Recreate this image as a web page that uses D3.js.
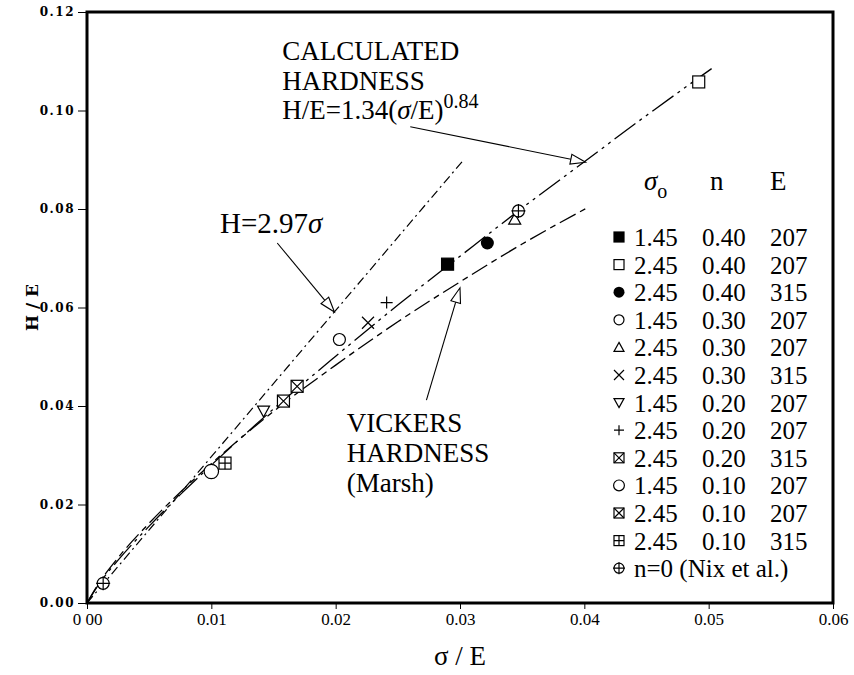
<!DOCTYPE html>
<html>
<head>
<meta charset="utf-8">
<script src="https://cdn.jsdelivr.net/npm/d3@7/dist/d3.min.js"></script>
<style>
  body { margin: 0; background: #fff; }
  text { fill: #000; }
</style>
</head>
<body>
<div id="chart"></div>
<script>
// Define SVG area dimensions
var svgWidth = 854;
var svgHeight = 675;

// tick values and labels, as printed
var xTicks = [0, 0.01, 0.02, 0.03, 0.04, 0.05, 0.06];
var xTickLabels = ["0 00", "0.01", "0.02", "0.03", "0.04", "0.05", "0.06"];
var yTicks = [0, 0.02, 0.04, 0.06, 0.08, 0.10, 0.12];
var yTickLabels = ["0.00", "0.02", "0.04", "0.06", "0.08", "0.10", "0.12"];

// legend rows: marker, sigma_o, n, E
var seriesMarkers = ["sqFill", "sq", "dotFill", "circ", "tri", "cross", "triDown", "plus", "sqX", "circBig", "sqX", "sqPlus", "circPlus"];
var seriesSigma = ["1.45", "2.45", "2.45", "1.45", "2.45", "2.45", "1.45", "2.45", "2.45", "1.45", "2.45", "2.45", "n=0 (Nix et al.)"];
var seriesN = ["0.40", "0.40", "0.40", "0.30", "0.30", "0.30", "0.20", "0.20", "0.20", "0.10", "0.10", "0.10", ""];
var seriesE = ["207", "207", "315", "207", "207", "315", "207", "207", "315", "207", "207", "315", ""];

// measured points (sigma/E, H/E), one list per legend row
var seriesPoints = [
  [[0.0290, 0.0688]],
  [[0.0492, 0.1058]],
  [[0.0322, 0.0731]],
  [[0.0203, 0.0535]],
  [[0.0344, 0.0779]],
  [[0.0226, 0.0569]],
  [[0.0142, 0.0390]],
  [[0.0241, 0.0610]],
  [[0.0169, 0.0440]],
  [[0.0100, 0.0267]],
  [[0.0158, 0.0410]],
  [[0.0111, 0.0284]],
  [[0.0013, 0.0040], [0.0347, 0.0796]]
];

// reference curves
var linearLine = [[0, 0], [0.0302, 0.0897]];
var calcLine = [[0, 0], [0.001, 0.0040], [0.0025, 0.0087], [0.005, 0.0156], [0.0075, 0.0220],
  [0.01, 0.0280], [0.015, 0.0394], [0.02, 0.0501], [0.025, 0.0605], [0.03, 0.0704],
  [0.035, 0.0802], [0.04, 0.0896], [0.045, 0.0990], [0.0504, 0.1088]];
var vickersLine = [[0, 0], [0.001, 0.0042], [0.0025, 0.0092], [0.005, 0.0162], [0.0075, 0.0225],
  [0.01, 0.0283], [0.015, 0.0389], [0.02, 0.0483], [0.025, 0.0571], [0.03, 0.0652],
  [0.035, 0.0729], [0.0402, 0.0802]];

// arrows [tail, tip] in data units
var arrows = [
  [[0.0260, 0.0967], [0.0401, 0.0895]],
  [[0.0153, 0.0731], [0.0199, 0.0591]],
  [[0.0273, 0.0412], [0.0300, 0.0640]]
];

var margin = { top: 12, right: 21, bottom: 72, left: 87 };
var chartWidth = svgWidth - margin.left - margin.right;
var chartHeight = svgHeight - margin.top - margin.bottom;

var svg = d3.select("#chart")
  .append("svg")
  .attr("width", svgWidth)
  .attr("height", svgHeight);

var chartGroup = svg.append("g")
  .attr("transform", `translate(${margin.left}, ${margin.top})`);

var xScale = d3.scaleLinear().domain([0, 0.06]).range([0, chartWidth]);
var yScale = d3.scaleLinear().domain([0, 0.12]).range([chartHeight, 0]);

var serif = "Liberation Serif, DejaVu Serif, serif";

// axes
var bottomAxis = d3.axisBottom(xScale)
  .tickValues(xTicks)
  .tickSize(6)
  .tickPadding(4)
  .tickFormat((d, i) => xTickLabels[i]);
var leftAxis = d3.axisLeft(yScale)
  .tickValues(yTicks)
  .tickSize(9)
  .tickPadding(3)
  .tickFormat((d, i) => yTickLabels[i]);

var xAxis = chartGroup.append("g")
  .attr("transform", `translate(0, ${chartHeight})`)
  .call(bottomAxis);
xAxis.select(".domain").remove();
xAxis.selectAll("text")
  .attr("font-family", serif)
  .attr("font-size", "17px");

var yAxis = chartGroup.append("g").call(leftAxis);
yAxis.select(".domain").remove();
yAxis.selectAll("text")
  .attr("font-family", "DejaVu Serif, serif")
  .attr("font-weight", "bold")
  .attr("font-size", "12px")
  .attr("letter-spacing", "1.5px");

// frame
chartGroup.append("rect")
  .attr("x", 0).attr("y", 0)
  .attr("width", chartWidth).attr("height", chartHeight)
  .attr("fill", "none")
  .attr("stroke", "#000")
  .attr("stroke-width", 3);

// axis titles
svg.append("text")
  .attr("transform", `translate(38, ${margin.top + yScale(0.06)}) rotate(-90)`)
  .attr("text-anchor", "middle")
  .attr("font-family", "DejaVu Serif, serif")
  .attr("font-weight", "bold")
  .attr("font-size", "17px")
  .text("H / E");

svg.append("text")
  .attr("x", margin.left + xScale(0.03))
  .attr("y", 665)
  .attr("text-anchor", "middle")
  .attr("font-family", serif)
  .attr("font-size", "27px")
  .text("\u03c3 / E");

// curves
var line = d3.line()
  .x(d => xScale(d[0]))
  .y(d => yScale(d[1]))
  .curve(d3.curveMonotoneX);

chartGroup.append("path").datum(linearLine)
  .attr("d", line).attr("fill", "none").attr("stroke", "#000")
  .attr("stroke-width", 1.2).attr("stroke-dasharray", "9,4,2,4");
chartGroup.append("path").datum(calcLine)
  .attr("d", line).attr("fill", "none").attr("stroke", "#000")
  .attr("stroke-width", 1.3).attr("stroke-dasharray", "26,5,3,5,3,5");
chartGroup.append("path").datum(vickersLine)
  .attr("d", line).attr("fill", "none").attr("stroke", "#000")
  .attr("stroke-width", 1.3).attr("stroke-dasharray", "18,5,6,5");

// markers
function drawMarker(g, type, s) {
  var h = s / 2;
  if (type === "sqFill" || type === "sq" || type === "sqX" || type === "sqPlus") {
    g.append("rect").attr("x", -h).attr("y", -h).attr("width", s).attr("height", s)
      .attr("fill", type === "sqFill" ? "#000" : "#fff").attr("stroke", "#000").attr("stroke-width", 1.2);
    if (type === "sqX") {
      g.append("path").attr("d", `M${-h},${-h}L${h},${h}M${-h},${h}L${h},${-h}`).attr("stroke", "#000").attr("stroke-width", 1.2);
    }
    if (type === "sqPlus") {
      g.append("path").attr("d", `M0,${-h}L0,${h}M${-h},0L${h},0`).attr("stroke", "#000").attr("stroke-width", 1.2);
    }
  } else if (type === "dotFill") {
    g.append("circle").attr("r", h + 0.5).attr("fill", "#000");
  } else if (type === "circ" || type === "circBig" || type === "circPlus") {
    var r = type === "circBig" ? h * 1.2 : h;
    g.append("circle").attr("r", r).attr("fill", "#fff").attr("stroke", "#000").attr("stroke-width", 1.2);
    if (type === "circPlus") {
      g.append("path").attr("d", `M0,${-r - 1}L0,${r + 1}M${-r - 1},0L${r + 1},0`).attr("stroke", "#000").attr("stroke-width", 1.2);
    }
  } else if (type === "tri") {
    g.append("path").attr("d", `M0,${-h}L${h},${h * 0.8}L${-h},${h * 0.8}Z`)
      .attr("fill", "#fff").attr("stroke", "#000").attr("stroke-width", 1.2);
  } else if (type === "triDown") {
    g.append("path").attr("d", `M0,${h}L${h},${-h * 0.8}L${-h},${-h * 0.8}Z`)
      .attr("fill", "#fff").attr("stroke", "#000").attr("stroke-width", 1.2);
  } else if (type === "cross") {
    g.append("path").attr("d", `M${-h},${-h}L${h},${h}M${-h},${h}L${h},${-h}`).attr("stroke", "#000").attr("stroke-width", 1.2);
  } else if (type === "plus") {
    g.append("path").attr("d", `M0,${-h}L0,${h}M${-h},0L${h},0`).attr("stroke", "#000").attr("stroke-width", 1.2);
  }
}

seriesPoints.forEach(function(pts, i) {
  pts.forEach(function(p) {
    var g = chartGroup.append("g")
      .attr("transform", `translate(${xScale(p[0])}, ${yScale(p[1])})`);
    drawMarker(g, seriesMarkers[i], 12);
  });
});

// arrows with open heads
function drawArrow(a) {
  var x1 = xScale(a[0][0]), y1 = yScale(a[0][1]);
  var x2 = xScale(a[1][0]), y2 = yScale(a[1][1]);
  var ang = Math.atan2(y2 - y1, x2 - x1);
  var len = 15, wid = 5;
  var bx = x2 - len * Math.cos(ang), by = y2 - len * Math.sin(ang);
  chartGroup.append("line")
    .attr("x1", x1).attr("y1", y1).attr("x2", bx).attr("y2", by)
    .attr("stroke", "#000").attr("stroke-width", 1.1);
  var px = -Math.sin(ang) * wid, py = Math.cos(ang) * wid;
  chartGroup.append("path")
    .attr("d", `M${x2},${y2}L${bx + px},${by + py}L${bx - px},${by - py}Z`)
    .attr("fill", "#fff").attr("stroke", "#000").attr("stroke-width", 1.1);
}
arrows.forEach(drawArrow);

// annotations
function label(x, y, size) {
  return chartGroup.append("text")
    .attr("x", xScale(x)).attr("y", yScale(y))
    .attr("font-family", serif)
    .attr("font-size", size + "px");
}
label(0.0157, 0.1103, 27).text("CALCULATED");
label(0.0157, 0.1042, 27).text("HARDNESS");
var calc = label(0.0157, 0.0983, 27);
calc.append("tspan").text("H/E=1.34(");
calc.append("tspan").attr("font-style", "italic").text("\u03c3");
calc.append("tspan").text("/E)");
calc.append("tspan").attr("dy", -11).attr("font-size", "20px").text("0.84");

var lin = label(0.0107, 0.0751, 29);
lin.append("tspan").text("H=2.97");
lin.append("tspan").attr("font-style", "italic").text("\u03c3");

label(0.0209, 0.0347, 27).text("VICKERS");
label(0.0209, 0.0286, 27).text("HARDNESS");
label(0.0209, 0.0225, 27).text("(Marsh)");

// legend
var legend = svg.append("g");
var head = legend.append("text")
  .attr("x", 644).attr("y", 190)
  .attr("font-family", serif).attr("font-size", "27px");
head.append("tspan").attr("font-style", "italic").text("\u03c3");
head.append("tspan").attr("dy", 8).attr("font-size", "20px").text("o");
legend.append("text").attr("x", 710).attr("y", 190)
  .attr("font-family", serif).attr("font-size", "27px").text("n");
legend.append("text").attr("x", 770).attr("y", 190)
  .attr("font-family", serif).attr("font-size", "27px").text("E");

seriesMarkers.forEach(function(m, i) {
  var yy = 237 + i * 27.6;
  var g = legend.append("g").attr("transform", `translate(619, ${yy})`);
  drawMarker(g, m, m === "circBig" ? 9 : 10);
  var fs = "25px";
  legend.append("text").attr("x", 634).attr("y", yy + 9)
    .attr("font-family", serif).attr("font-size", fs).text(seriesSigma[i]);
  legend.append("text").attr("x", 702).attr("y", yy + 9)
    .attr("font-family", serif).attr("font-size", fs).text(seriesN[i]);
  legend.append("text").attr("x", 770).attr("y", yy + 9)
    .attr("font-family", serif).attr("font-size", fs).text(seriesE[i]);
});
</script>
</body>
</html>
